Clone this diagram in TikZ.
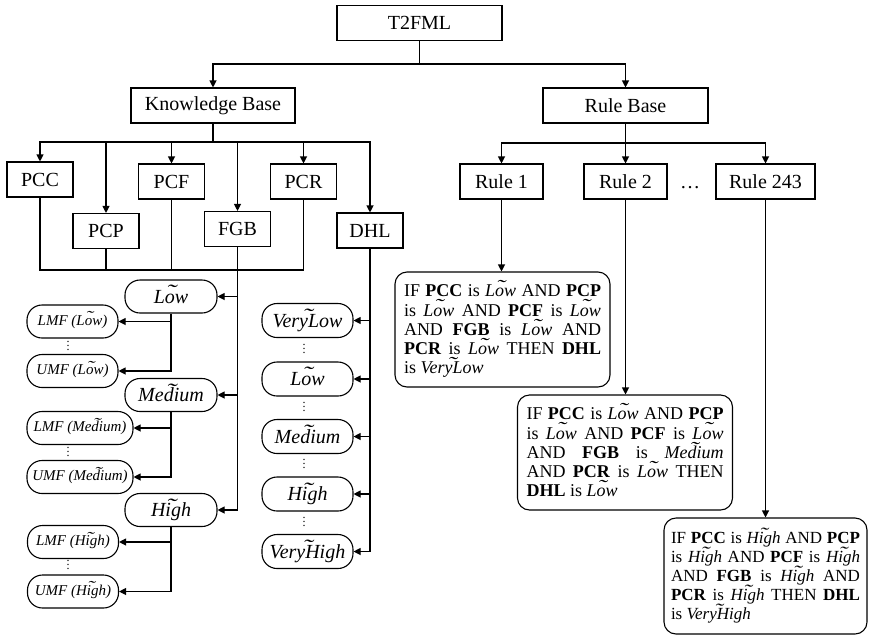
\documentclass[tikz,border=0pt]{standalone}
\usepackage{graphicx}
\usepackage{fontspec}
\setmainfont{Liberation Serif}
\usetikzlibrary{arrows.meta}

% type-2 fuzzy set: italic name with a tilde on top
\newcommand\fzs[1]{\textit{\ooalign{#1\cr\hidewidth\raisebox{.24em}{\scalebox{1.5}[1]{\char"02DC}}\hidewidth\cr}}}

\begin{document}
\begin{tikzpicture}[x=1pt, y=-1pt,
  >={Triangle[length=7pt,width=7pt]},
  box/.style={draw, line width=1.1pt, minimum height=35pt, inner sep=0pt, font=\fontsize{20}{24}\selectfont},
  var/.style={box, minimum width=66pt},
  fset/.style={draw, line width=1.1pt, rounded corners=15pt, minimum width=92pt, minimum height=33pt, inner sep=0pt, font=\fontsize{20}{24}\selectfont\itshape},
  mf/.style={fset, minimum width=91pt, font=\fontsize{15}{18}\selectfont\itshape},
  rulebox/.style={draw, line width=1.1pt, rounded corners=12pt, text width=197pt, minimum height=115pt, inner xsep=9pt, align=justify, font={\fontsize{18}{19.3}\selectfont\tolerance=10000}},
  arrow/.style={->, line width=1.1pt},
  link/.style={line width=1.1pt},
  dots/.style={inner sep=0pt, font=\fontsize{12}{12}\selectfont}
]
\useasboundingbox (0,0) rectangle (869,635);

% top of the tree
\node[box, minimum width=165pt] (t2fml) at (419.5,23) {T2FML};
\node[box, minimum width=164pt] (kb) at (213,105.5) {Knowledge Base};
\node[box, minimum width=165pt] (rb) at (625.5,105.5) {Rule Base};
\coordinate (top) at (419.5,64);
\draw[link] (t2fml) -- (top);
\draw[arrow] (top) -| (kb);
\draw[arrow] (top) -| (rb);

% linguistic variables
\node[var] (pcc) at (40,179.5) {PCC};
\node[var] (pcp) at (106,231) {PCP};
\node[var] (pcf) at (171.5,181.5) {PCF};
\node[var] (fgb) at (237.5,229) {FGB};
\node[var] (pcr) at (303.5,181.5) {PCR};
\node[var] (dhl) at (370,230.5) {DHL};
\coordinate (kbsplit) at (213,142);
\draw[link] (kb) -- (kbsplit);
\draw[arrow] (kbsplit) -| (pcc);
\draw[arrow] (kbsplit) -| (pcp);
\draw[arrow] (kbsplit) -| (pcf);
\draw[arrow] (kbsplit) -| (fgb);
\draw[arrow] (kbsplit) -| (pcr);
\draw[arrow] (kbsplit) -| (dhl);

% inputs share the same fuzzy sets
\coordinate (bar) at (0,270);
\draw[link] (pcc.south) |- (bar -| pcr.south) -- (pcr.south);
\draw[link] (pcp.south) -- (pcp.south |- bar);
\draw[link] (pcf.south) -- (pcf.south |- bar);

% input fuzzy sets
\node[fset] (fgb-low) at (171,296.5) {\fzs{Low}};
\node[fset] (fgb-med) at (171,395) {\fzs{Medium}};
\node[fset] (fgb-high) at (171,510) {\fzs{High}};
\draw[arrow] (fgb.south) |- (fgb-high.east);
\draw[arrow] (fgb.south |- fgb-low.east) -- (fgb-low.east);
\draw[arrow] (fgb.south |- fgb-med.east) -- (fgb-med.east);

% lower and upper membership functions
\node[mf] (lmf-low) at (72.5,321.5) {LMF (\fzs{Low})};
\node[dots] (dots-low) at (68,343) {$\vdots$};
\node[mf] (umf-low) at (72.5,371) {UMF (\fzs{Low})};
\node[mf, minimum width=106pt] (lmf-med) at (80,428) {LMF (\fzs{Medium})};
\node[dots] (dots-med) at (68,449) {$\vdots$};
\node[mf, minimum width=106pt] (umf-med) at (80,477) {UMF (\fzs{Medium})};
\node[mf] (lmf-high) at (73,542) {LMF (\fzs{High})};
\node[dots] (dots-high) at (68,562) {$\vdots$};
\node[mf] (umf-high) at (73,591.5) {UMF (\fzs{High})};
\draw[arrow] (fgb-low.south) |- (umf-low.east);
\draw[arrow] (fgb-low.south |- lmf-low.east) -- (lmf-low.east);
\draw[arrow] (fgb-med.south) |- (umf-med.east);
\draw[arrow] (fgb-med.south |- lmf-med.east) -- (lmf-med.east);
\draw[arrow] (fgb-high.south) |- (umf-high.east);
\draw[arrow] (fgb-high.south |- lmf-high.east) -- (lmf-high.east);

% output fuzzy sets
\node[fset, minimum width=91pt, minimum height=34pt] (dhl-vlow) at (307.5,320.5) {\fzs{VeryLow}};
\node[dots] (dots-a) at (304,346) {$\vdots$};
\node[fset, minimum width=91pt, minimum height=34pt] (dhl-low) at (307.5,379) {\fzs{Low}};
\node[dots] (dots-b) at (304,404) {$\vdots$};
\node[fset, minimum width=91pt, minimum height=34pt] (dhl-med) at (307.5,436.5) {\fzs{Medium}};
\node[dots] (dots-c) at (304,461) {$\vdots$};
\node[fset, minimum width=91pt, minimum height=34pt] (dhl-high) at (307.5,494) {\fzs{High}};
\node[dots] (dots-d) at (304,519) {$\vdots$};
\node[fset, minimum width=91pt, minimum height=34pt] (dhl-vhigh) at (307.5,551.5) {\fzs{VeryHigh}};
\draw[arrow] (dhl.south) |- (dhl-vhigh.east);
\draw[arrow] (dhl.south |- dhl-vlow.east) -- (dhl-vlow.east);
\draw[arrow] (dhl.south |- dhl-low.east) -- (dhl-low.east);
\draw[arrow] (dhl.south |- dhl-med.east) -- (dhl-med.east);
\draw[arrow] (dhl.south |- dhl-high.east) -- (dhl-high.east);

% rules
\node[box, minimum width=83pt] (rule1) at (501.5,181.5) {Rule 1};
\node[box, minimum width=83pt] (rule2) at (625.5,181.5) {Rule 2};
\node[inner sep=0pt, anchor=base, font=\fontsize{20}{24}\selectfont] (more) at (690,188) {\dots};
\node[box, minimum width=99pt] (rule243) at (765.5,181.5) {Rule 243};
\coordinate (rbsplit) at (625.5,143);
\draw[link] (rb) -- (rbsplit);
\draw[arrow] (rbsplit) -| (rule1);
\draw[arrow] (rbsplit) -| (rule2);
\draw[arrow] (rbsplit) -| (rule243);

\node[rulebox] (if1) at (502.5,329.5) {IF \textbf{PCC} is \fzs{Low} AND \textbf{PCP}\linebreak
is \fzs{Low} AND \textbf{PCF} is \fzs{Low}\linebreak
AND \textbf{FGB} is \fzs{Low} AND\linebreak
\textbf{PCR} is \fzs{Low} THEN \textbf{DHL}\linebreak
is \fzs{VeryLow}};
\node[rulebox] (if2) at (625,452.5) {IF \textbf{PCC} is \fzs{Low} AND \textbf{PCP}\linebreak
is \fzs{Low} AND \textbf{PCF} is \fzs{Low}\linebreak
AND \textbf{FGB} is \fzs{Medium}\linebreak
AND \textbf{PCR} is \fzs{Low} THEN\linebreak
\textbf{DHL} is \fzs{Low}};
\node[rulebox, text width=189pt, inner xsep=7pt, minimum height=116pt, font={\fontsize{17}{19}\selectfont\tolerance=10000}] (if243) at (765.5,576) {IF \textbf{PCC} is \fzs{High} AND \textbf{PCP}\linebreak
is \fzs{High} AND \textbf{PCF} is \fzs{High}\linebreak
AND \textbf{FGB} is \fzs{High} AND\linebreak
\textbf{PCR} is \fzs{High} THEN \textbf{DHL}\linebreak
is \fzs{VeryHigh}};
\draw[arrow] (rule1.south) -- (rule1.south |- if1.north);
\draw[arrow] (rule2.south) -- (rule2.south |- if2.north);
\draw[arrow] (rule243.south) -- (rule243.south |- if243.north);
\end{tikzpicture}
\end{document}
